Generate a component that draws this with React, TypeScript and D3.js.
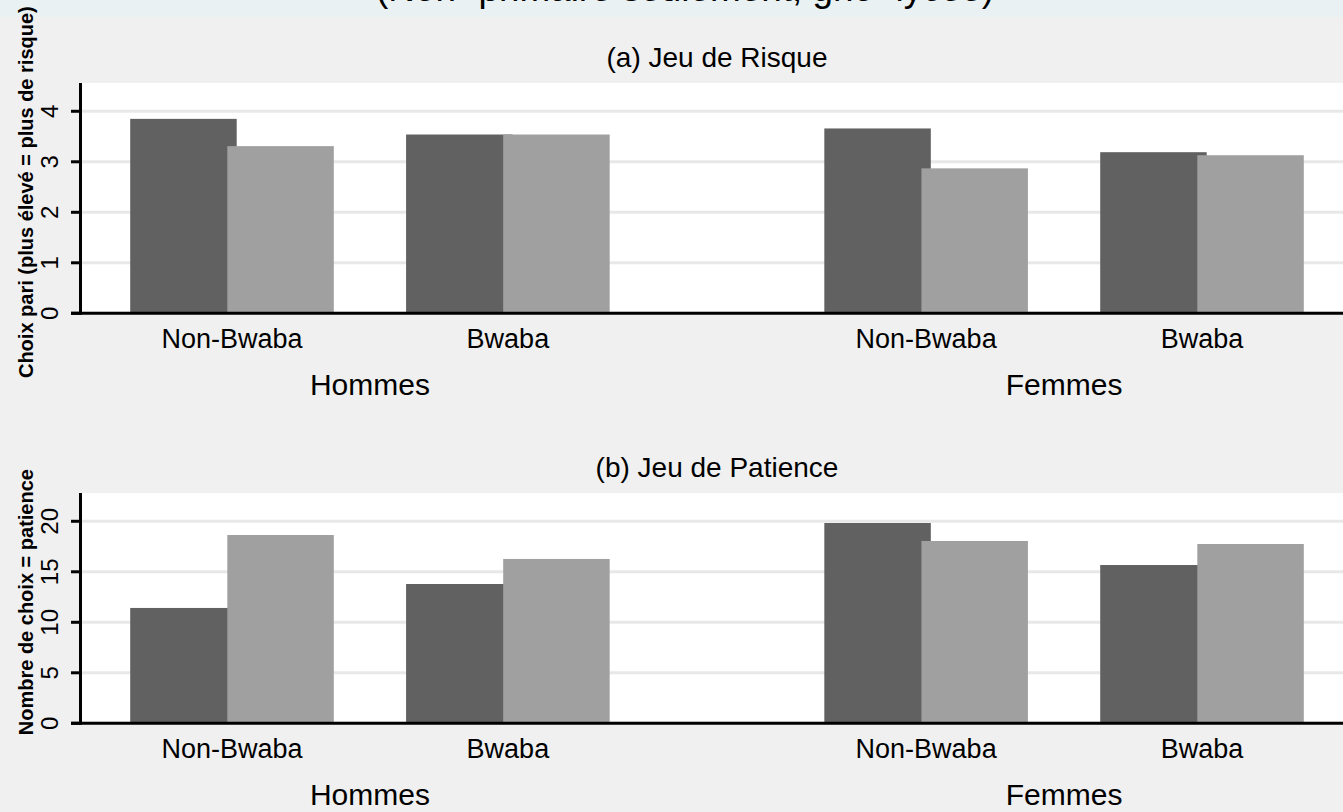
import React from "react";
import * as d3 from "d3";

const groups = ["Hommes", "Femmes"];
const categories = ["Non-Bwaba", "Bwaba"];
const riskDark = [3.85, 3.54, 3.66, 3.19];
const riskLight = [3.31, 3.54, 2.87, 3.13];
const patienceDark = [11.42, 13.79, 19.83, 15.67];
const patienceLight = [18.64, 16.27, 18.05, 17.75];
const riskTicks = [0, 1, 2, 3, 4];
const patienceTicks = [0, 5, 10, 15, 20];

const W = 1343;
const H = 812;
const FONT = "'Liberation Sans', Arial, sans-serif";
const GROUPSTEP = 2.516;

type PanelProps = {
  title: string;
  ytitle: string;
  dark: number[];
  light: number[];
  ticks: number[];
  ymax: number;
  top: number;
  bottom: number;
};

function Panel({ title, ytitle, dark, light, ticks, ymax, top, bottom }: PanelProps) {
  const left = 82;
  const right = 1352;
  const y = d3.scaleLinear().domain([0, ymax]).range([bottom, top]);
  const slots: { g: number; c: number; pos: number }[] = [];
  groups.forEach((_, gi) =>
    categories.forEach((_, ci) => slots.push({ g: gi, c: ci, pos: gi * GROUPSTEP + ci }))
  );
  const x = d3.scaleLinear().domain([0, GROUPSTEP + 1]).range([232, 1202]);
  const step = x(1) - x(0);
  const bw = 0.386 * step;
  const off = 0.176 * step;
  const midY = (top + bottom) / 2;
  return (
    <g>
      <text x={(left + right) / 2} y={top - 16} textAnchor="middle" fontSize={28} fontFamily={FONT} fill="#000">
        {title}
      </text>
      <rect x={left} y={top} width={right - left} height={bottom - top} fill="#ffffff" />
      {ticks.map((t) => (
        <line key={"g" + t} x1={left} x2={right} y1={y(t)} y2={y(t)} stroke="#e8e8e8" strokeWidth={3} />
      ))}
      {slots.map((s, i) => (
        <rect key={"d" + i} x={x(s.pos) - off - bw / 2} y={y(dark[i])} width={bw} height={y(0) - y(dark[i])} fill="#616161" />
      ))}
      {slots.map((s, i) => (
        <rect key={"l" + i} x={x(s.pos) + off - bw / 2} y={y(light[i])} width={bw} height={y(0) - y(light[i])} fill="#a0a0a0" />
      ))}
      <line x1={left - 1.5} x2={left - 1.5} y1={top} y2={bottom} stroke="#000" strokeWidth={3} />
      <line x1={71} x2={right} y1={bottom} y2={bottom} stroke="#000" strokeWidth={3} />
      {ticks.map((t) => (
        <g key={"t" + t}>
          <line x1={71} x2={left} y1={y(t)} y2={y(t)} stroke="#000" strokeWidth={3} />
          <text
            transform={`translate(${58},${y(t)}) rotate(-90)`}
            textAnchor="middle"
            fontSize={24}
            fontFamily={FONT}
            fill="#000"
          >
            {t}
          </text>
        </g>
      ))}
      <text
        transform={`translate(${33},${midY - 6}) rotate(-90)`}
        textAnchor="middle"
        fontSize={20}
        fontWeight="bold"
        fontFamily={FONT}
        fill="#000"
      >
        {ytitle}
      </text>
      {slots.map((s, i) => (
        <text key={"c" + i} x={x(s.pos)} y={bottom + 34.5} textAnchor="middle" fontSize={27} fontFamily={FONT} fill="#000">
          {categories[s.c]}
        </text>
      ))}
      {groups.map((g, gi) => (
        <text
          key={"gr" + gi}
          x={(x(gi * GROUPSTEP) + x(gi * GROUPSTEP + 1)) / 2}
          y={bottom + 82}
          textAnchor="middle"
          fontSize={30}
          fontFamily={FONT}
          fill="#000"
        >
          {g}
        </text>
      ))}
    </g>
  );
}

export default function App() {
  return (
    <svg width={W} height={H} style={{ position: "absolute", left: 0, top: 0, display: "block" }}>
      <rect x={0} y={0} width={W} height={H} fill="#f0f0f0" />
      <rect x={0} y={0} width={W} height={17} fill="#eaf1f2" />
      <text x={685} y={1} textAnchor="middle" fontSize={36} fontFamily={FONT} fill="#000" textLength={618} lengthAdjust="spacingAndGlyphs">
        (Non- primaire seulement, gno=lycée)
      </text>
      <Panel
        title="(a) Jeu de Risque"
        ytitle="Choix pari (plus élevé = plus de risque)"
        dark={riskDark}
        light={riskLight}
        ticks={riskTicks}
        ymax={4.56}
        top={83}
        bottom={313.3}
      />
      <Panel
        title="(b) Jeu de Patience"
        ytitle="Nombre de choix = patience"
        dark={patienceDark}
        light={patienceLight}
        ticks={patienceTicks}
        ymax={22.8}
        top={493}
        bottom={723.3}
      />
    </svg>
  );
}
